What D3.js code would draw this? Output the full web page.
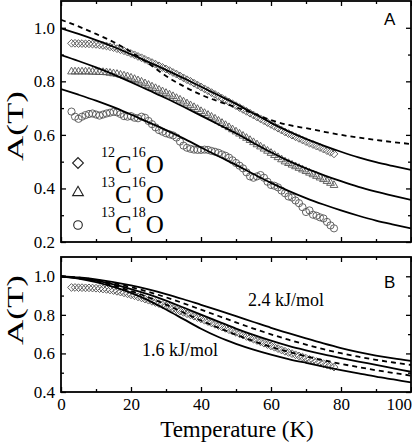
<!DOCTYPE html>
<html><head><meta charset="utf-8">
<script src="https://cdn.jsdelivr.net/npm/d3@7"></script>
<style>body{margin:0;background:#fff}svg{display:block}</style>
</head><body><svg id="c" width="412" height="444"></svg>
<script>
// ---- data ----
const dataTemps = [3,4,5,6,7,8,9,10,11,12,13,14,15,16,17,18,19,20,21,22,23,24,25,26,27,28,29,30,31,32,33,34,35,36,37,38,39,40,41,42,43,44,45,46,47,48,49,50,51,52,53,54,55,56,57,58,59,60,61,62,63,64,65,66,67,68,69,70,71,72,73,74,75,76,77,78];
const c12o16 = [0.942,0.942,0.941,0.941,0.940,0.940,0.939,0.938,0.936,0.934,0.932,0.929,0.926,0.922,0.918,0.914,0.909,0.904,0.899,0.893,0.888,0.882,0.876,0.870,0.864,0.858,0.852,0.846,0.840,0.833,0.827,0.820,0.813,0.806,0.800,0.793,0.786,0.779,0.772,0.765,0.758,0.751,0.744,0.737,0.730,0.723,0.716,0.709,0.702,0.695,0.688,0.681,0.674,0.667,0.660,0.653,0.646,0.639,0.632,0.625,0.618,0.611,0.605,0.599,0.593,0.587,0.581,0.575,0.569,0.564,0.558,0.553,0.547,0.541,0.535,0.529];
const c13o16 = [0.836,0.836,0.836,0.836,0.836,0.836,0.835,0.835,0.834,0.834,0.833,0.831,0.829,0.827,0.824,0.821,0.818,0.813,0.808,0.803,0.798,0.792,0.786,0.780,0.774,0.768,0.762,0.756,0.750,0.744,0.737,0.731,0.724,0.717,0.710,0.703,0.696,0.688,0.681,0.674,0.667,0.660,0.652,0.644,0.636,0.628,0.620,0.612,0.604,0.596,0.588,0.580,0.572,0.564,0.556,0.548,0.540,0.532,0.524,0.516,0.508,0.500,0.494,0.488,0.482,0.476,0.470,0.464,0.458,0.452,0.446,0.440,0.434,0.427,0.420,0.412];
const c13o18 = [0.687,0.668,0.660,0.668,0.674,0.678,0.680,0.676,0.672,0.676,0.680,0.683,0.686,0.684,0.678,0.670,0.668,0.670,0.664,0.662,0.668,0.664,0.652,0.640,0.628,0.618,0.612,0.606,0.602,0.598,0.590,0.575,0.560,0.552,0.548,0.545,0.544,0.544,0.545,0.544,0.540,0.537,0.533,0.527,0.522,0.515,0.505,0.495,0.485,0.475,0.460,0.445,0.440,0.445,0.450,0.440,0.425,0.413,0.410,0.404,0.392,0.382,0.370,0.366,0.355,0.345,0.330,0.312,0.318,0.302,0.298,0.292,0.288,0.275,0.262,0.251];

const curveTemps = [0,5,10,15,20,25,30,35,40,45,50,55,60,65,70,75,80,85,90,95,100];
const fitA1 = [0.998,0.977,0.954,0.929,0.901,0.872,0.843,0.812,0.780,0.748,0.716,0.680,0.645,0.613,0.585,0.560,0.537,0.516,0.498,0.483,0.469];
const fitA2 = [0.898,0.876,0.852,0.826,0.797,0.767,0.737,0.705,0.672,0.639,0.606,0.570,0.535,0.503,0.475,0.450,0.427,0.406,0.388,0.372,0.357];
const fitA3 = [0.771,0.750,0.728,0.704,0.676,0.647,0.618,0.587,0.553,0.520,0.488,0.454,0.421,0.391,0.364,0.340,0.318,0.298,0.280,0.265,0.251];
const dashA  = [1.030,1.005,0.977,0.947,0.910,0.867,0.820,0.782,0.750,0.725,0.703,0.680,0.655,0.637,0.625,0.612,0.600,0.590,0.581,0.573,0.566];

const fitB1 = [1.0,0.994,0.984,0.970,0.953,0.932,0.908,0.881,0.852,0.823,0.793,0.763,0.733,0.705,0.678,0.652,0.628,0.607,0.589,0.574,0.561];
const dashB1 = [1.0,0.993,0.981,0.964,0.944,0.919,0.891,0.860,0.827,0.794,0.761,0.729,0.699,0.671,0.646,0.622,0.601,0.583,0.567,0.553,0.540];
const fitB2 = [1.0,0.991,0.977,0.958,0.934,0.906,0.874,0.838,0.801,0.765,0.729,0.696,0.666,0.639,0.616,0.595,0.576,0.558,0.541,0.523,0.505];
const dashB2 = [1.0,0.990,0.974,0.952,0.924,0.891,0.853,0.812,0.771,0.733,0.697,0.664,0.634,0.608,0.585,0.565,0.546,0.529,0.513,0.499,0.485];
const fitB3 = [1.0,0.988,0.970,0.945,0.914,0.875,0.828,0.778,0.728,0.685,0.650,0.620,0.594,0.571,0.551,0.532,0.514,0.497,0.480,0.465,0.450];

const xMajor = [0,20,40,60,80,100];
const xMinor = [10,30,50,70,90];
const yMajorA = [0.2,0.4,0.6,0.8,1.0];
const yMinorA = [0.3,0.5,0.7,0.9];
const yMajorB = [0.4,0.6,0.8,1.0];
const yMinorB = [0.5,0.7,0.9];
const legendLabels = [["12","C","16","O"],["13","C","16","O"],["13","C","18","O"]];

// ---- drawing ----
const svg = d3.select('#c');
const serif = "'Liberation Serif','Times New Roman',serif";
const L = 61, R = 411;
const x = d3.scaleLinear().domain([0,100]).range([L,R]);
const yA = d3.scaleLinear().domain([0.2,1.1]).range([242,1]);
const yB = d3.scaleLinear().domain([0.4,1.1]).range([392,257]);

const defs = svg.append('defs');
defs.append('clipPath').attr('id','clipA').append('rect').attr('x',L).attr('y',1).attr('width',R-L).attr('height',241);
defs.append('clipPath').attr('id','clipB').append('rect').attr('x',L).attr('y',257).attr('width',R-L).attr('height',135);

function axes(y, top, bottom, yMaj, yMin, xLabels) {
  const g = svg.append('g');
  const style = sel => { sel.attr('font-family',serif); sel.select('.domain').remove(); sel.selectAll('line').attr('stroke','#000').attr('stroke-width',1.3); sel.selectAll('text').attr('font-family',serif).attr('font-size',17).attr('fill','#000'); };
  g.append('g').attr('transform',`translate(${L},0)`).call(d3.axisLeft(y).tickValues(yMaj).tickSize(-5).tickPadding(6).tickFormat(d3.format('.1f'))).call(style);
  g.append('g').attr('transform',`translate(${L},0)`).call(d3.axisLeft(y).tickValues(yMin).tickSize(-3).tickFormat('')).call(style);
  g.append('g').attr('transform',`translate(${R},0)`).call(d3.axisRight(y).tickValues(yMaj).tickSize(-5).tickFormat('')).call(style);
  g.append('g').attr('transform',`translate(${R},0)`).call(d3.axisRight(y).tickValues(yMin).tickSize(-3).tickFormat('')).call(style);
  const bx = g.append('g').attr('transform',`translate(0,${bottom})`).call(d3.axisBottom(x).tickValues(xMajor).tickSize(-5).tickPadding(6).tickFormat(xLabels ? d3.format('d') : '')).call(style);
  // keep the last label ("100") inside the picture
  bx.selectAll('text').filter(d => d === 100).attr('text-anchor','end').attr('dx', 0.5);
  g.append('g').attr('transform',`translate(0,${bottom})`).call(d3.axisBottom(x).tickValues(xMinor).tickSize(-3).tickFormat('')).call(style);
  g.append('g').attr('transform',`translate(0,${top})`).call(d3.axisTop(x).tickValues(xMajor).tickSize(-5).tickFormat('')).call(style);
  g.append('g').attr('transform',`translate(0,${top})`).call(d3.axisTop(x).tickValues(xMinor).tickSize(-3).tickFormat('')).call(style);
  g.append('rect').attr('x',L).attr('y',top).attr('width',R-L).attr('height',bottom-top).attr('fill','none').attr('stroke','#000').attr('stroke-width',1.8);
}

function curve(y, vals, clip, dashed) {
  const line = d3.line().x((d,i)=>x(curveTemps[i])).y(d=>y(d)).curve(d3.curveMonotoneX);
  svg.append('path').attr('clip-path',`url(#${clip})`).attr('d', line(vals)).attr('fill','none').attr('stroke','#000').attr('stroke-width',1.8).attr('stroke-dasharray', dashed ? '5,4' : null);
}

function markers(y, vals, type, clip) {
  const g = svg.append('g').attr('clip-path',`url(#${clip})`);
  vals.forEach((v,i) => {
    const cx = x(dataTemps[i]), cy = y(v);
    if (type === 'circle') {
      g.append('circle').attr('cx',cx).attr('cy',cy).attr('r',3.6).attr('fill','none').attr('stroke','#555').attr('stroke-width',0.9);
    } else if (type === 'diamond') {
      g.append('path').attr('d', d3.symbol(d3.symbolSquare, 30)()).attr('transform',`translate(${cx},${cy}) rotate(45)`).attr('fill','none').attr('stroke','#555').attr('stroke-width',0.9);
    } else {
      g.append('path').attr('d', d3.symbol(d3.symbolTriangle, 26)()).attr('transform',`translate(${cx},${cy})`).attr('fill','none').attr('stroke','#555').attr('stroke-width',0.9);
    }
  });
}

// Panel A
markers(yA, c12o16, 'diamond', 'clipA');
markers(yA, c13o16, 'triangle', 'clipA');
markers(yA, c13o18, 'circle', 'clipA');
curve(yA, fitA1, 'clipA', false);
curve(yA, fitA2, 'clipA', false);
curve(yA, fitA3, 'clipA', false);
curve(yA, dashA, 'clipA', true);
axes(yA, 1, 242, yMajorA, yMinorA, false);

// Panel B
markers(yB, c12o16, 'diamond', 'clipB');
curve(yB, fitB1, 'clipB', false);
curve(yB, dashB1, 'clipB', true);
curve(yB, fitB2, 'clipB', false);
curve(yB, dashB2, 'clipB', true);
curve(yB, fitB3, 'clipB', false);
axes(yB, 257, 392, yMajorB, yMinorB, true);

// Panel letters
svg.append('text').attr('x',384).attr('y',25).attr('font-family',"'Liberation Sans',Arial,sans-serif").attr('font-size',17).text('A');
svg.append('text').attr('x',384).attr('y',288).attr('font-family',"'Liberation Sans',Arial,sans-serif").attr('font-size',17).text('B');

// annotations in B
svg.append('text').attr('x',248).attr('y',306).attr('font-family',serif).attr('font-size',18).text('2.4 kJ/mol');
svg.append('text').attr('x',142).attr('y',356).attr('font-family',serif).attr('font-size',18).text('1.6 kJ/mol');

// axis titles
[[126,'A(T)'],[310,'A(T)']].forEach(([cy,t]) => {
  svg.append('text').attr('transform',`translate(23,${cy}) rotate(-90)`).attr('text-anchor','middle')
    .attr('font-family',serif).attr('font-size',24).attr('textLength',70).attr('lengthAdjust','spacingAndGlyphs').text(t);
});
svg.append('text').attr('x',237).attr('y',437).attr('text-anchor','middle').attr('font-family',serif).attr('font-size',23).text('Temperature (K)');

// legend
const legendY = [173, 203, 233];
const symY = [163, 192.5, 225];
legendLabels.forEach((parts,i) => {
  const t = svg.append('text').attr('x',101).attr('y',legendY[i]).attr('font-family',serif);
  t.append('tspan').attr('font-size',14).attr('dy',-16.5).text(parts[0]);
  t.append('tspan').attr('font-size',25).attr('dy',16.5).text(parts[1]);
  t.append('tspan').attr('font-size',14).attr('dy',-16.5).text(parts[2]);
  t.append('tspan').attr('font-size',25).attr('dy',16.5).text(parts[3]);
});
svg.append('path').attr('d', d3.symbol(d3.symbolSquare, 58)()).attr('transform',`translate(78,${symY[0]}) rotate(45)`).attr('fill','none').attr('stroke','#222').attr('stroke-width',1.1);
svg.append('path').attr('d', d3.symbol(d3.symbolTriangle, 50)()).attr('transform',`translate(78,${symY[1]})`).attr('fill','none').attr('stroke','#222').attr('stroke-width',1.1);
svg.append('circle').attr('cx',78).attr('cy',symY[2]).attr('r',4.3).attr('fill','none').attr('stroke','#222').attr('stroke-width',1.1);
</script></body></html>
